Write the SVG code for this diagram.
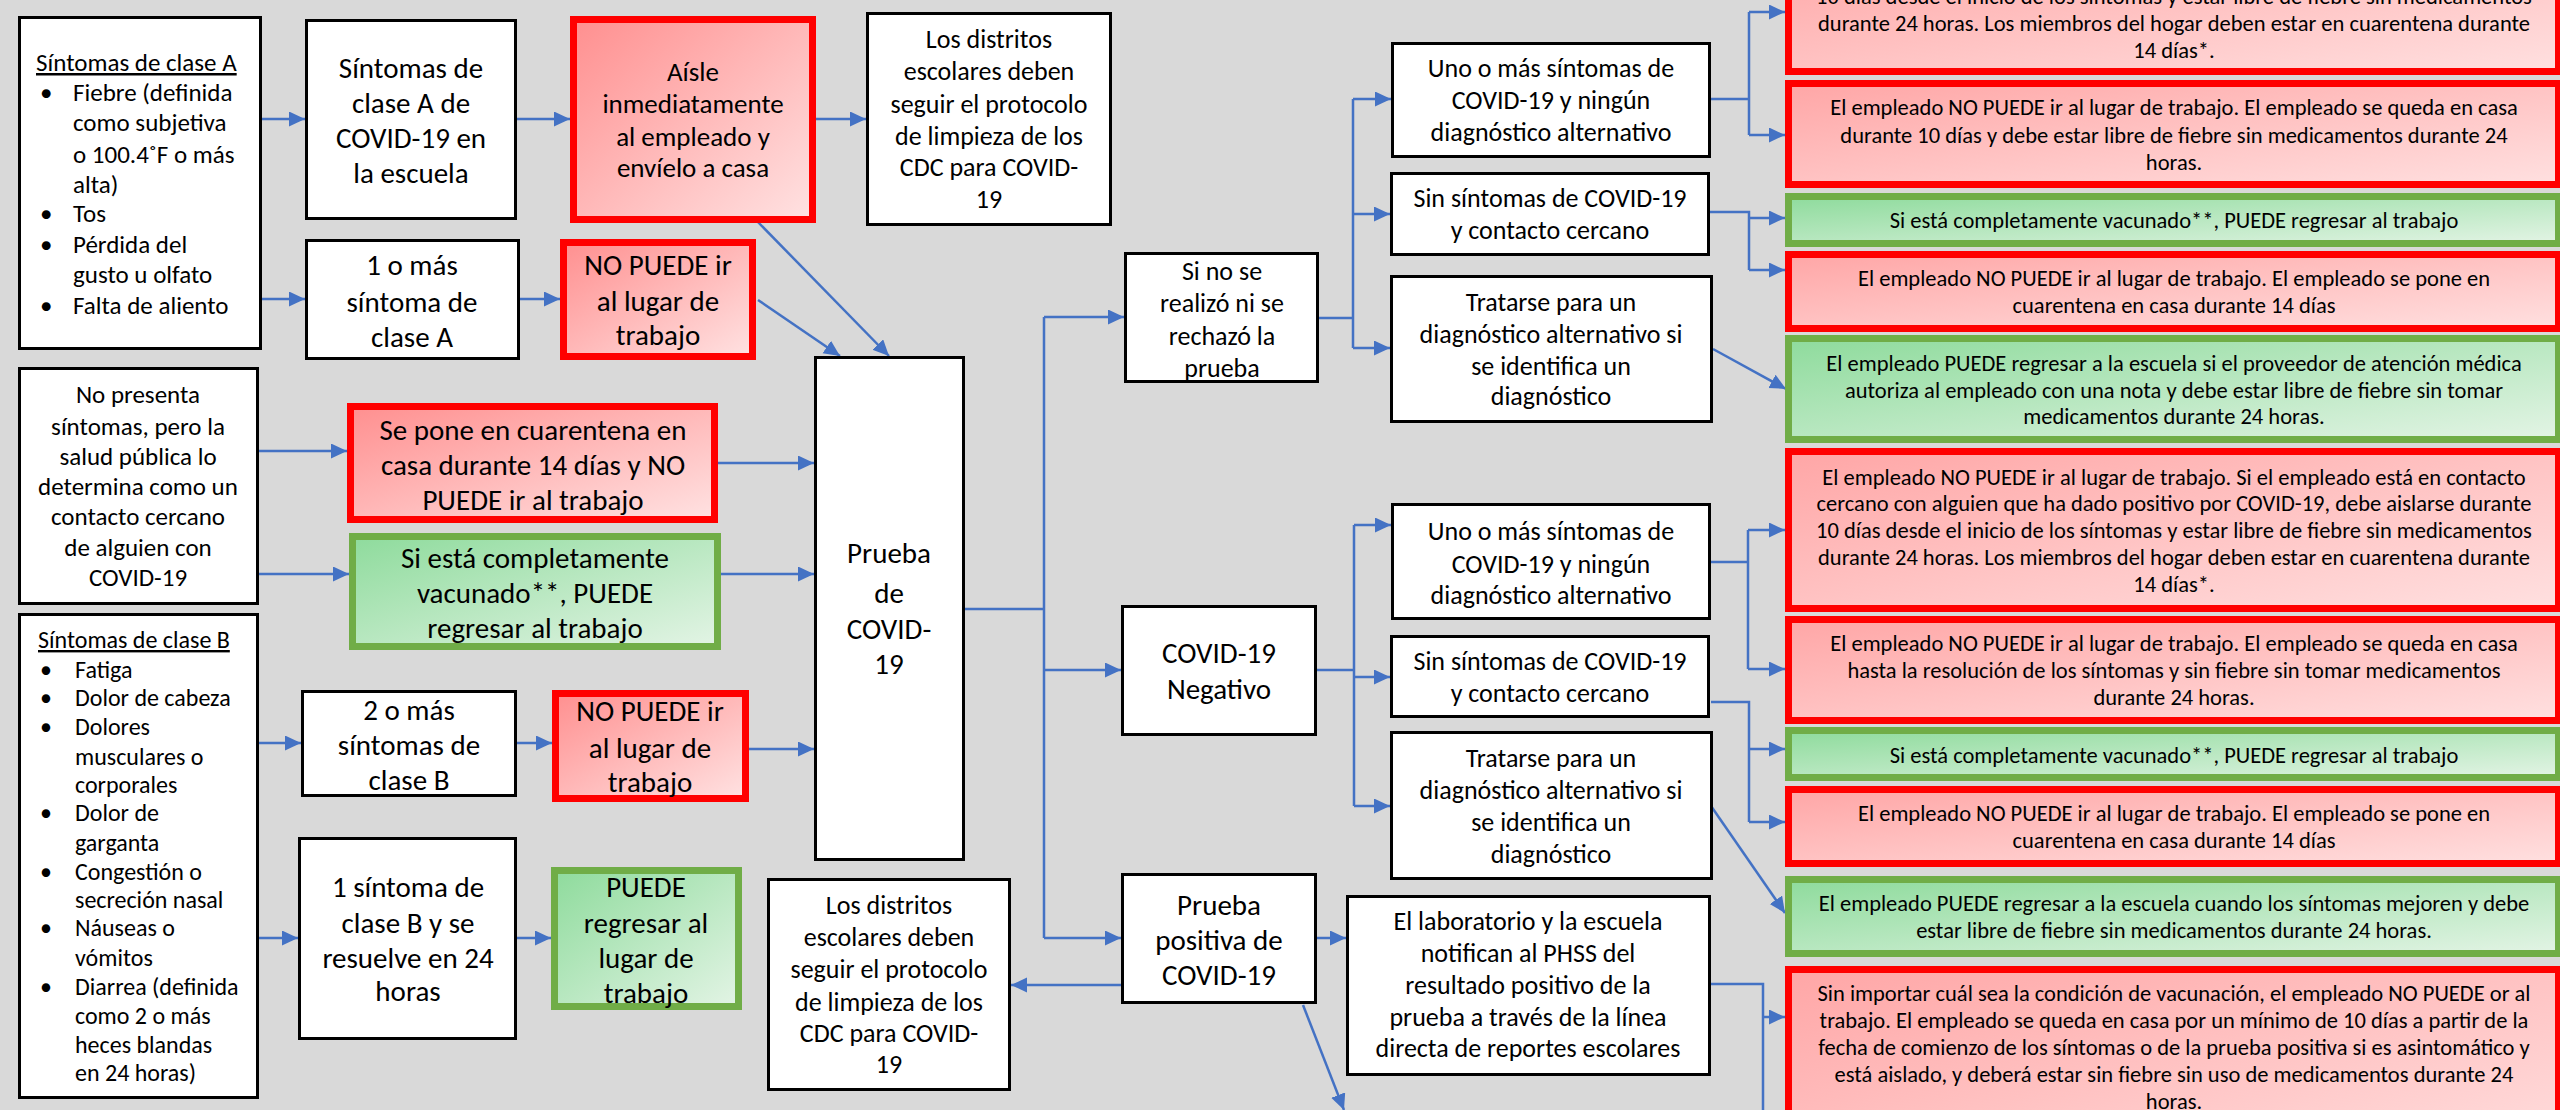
<svg xmlns="http://www.w3.org/2000/svg" width="2560" height="1110" viewBox="0 0 2560 1110">
<defs>
<linearGradient id="gR" x1="0" y1="0" x2="1" y2="1"><stop offset="0" stop-color="#ff8f8f"/><stop offset="1" stop-color="#ffe2e2"/></linearGradient>
<linearGradient id="gR2" x1="0" y1="0" x2="1" y2="1"><stop offset="0" stop-color="#ffa6a6"/><stop offset="1" stop-color="#ffe0e0"/></linearGradient>
<linearGradient id="gG" x1="0" y1="0" x2="1" y2="1"><stop offset="0" stop-color="#8edb9c"/><stop offset="1" stop-color="#e3f4e5"/></linearGradient>
<marker id="ah" markerUnits="userSpaceOnUse" markerWidth="17" markerHeight="16" refX="16" refY="7.5" orient="auto"><path d="M0,0 L16,7.5 L0,15 z" fill="#4472c4"/></marker>
</defs>
<style>
text{font-family:Carlito,Lato,"Open Sans",sans-serif;fill:#000}
.bx{fill:#fff;stroke:#000;stroke-width:3}
.rd{fill:url(#gR);stroke:#f00;stroke-width:7}
.rd2{fill:url(#gR2);stroke:#f00;stroke-width:7}
.gr{fill:url(#gG);stroke:#70ad47;stroke-width:7}
.c{fill:none;stroke:#4472c4;stroke-width:2.5}
.a{marker-end:url(#ah)}
.m{text-anchor:middle}
.f29{font-size:29px}.f27{font-size:27px}.f26{font-size:26px}.f25{font-size:25px}.f24{font-size:24px}.f22{font-size:22.5px}
</style>
<rect width="2560" height="1110" fill="#d9d9d9"/>

<g id="connectors">
<path class="c a" d="M262,119 H305"/>
<path class="c a" d="M517,119 H570"/>
<path class="c a" d="M816,119 H866"/>
<path class="c a" d="M262,299 H305"/>
<path class="c a" d="M520,299 H560"/>
<path class="c a" d="M756,220 L889,356"/>
<path class="c a" d="M758,300 L840,356"/>
<path class="c a" d="M259,451 H347"/>
<path class="c a" d="M259,574 H349"/>
<path class="c a" d="M718,463 H814"/>
<path class="c a" d="M721,574 H814"/>
<path class="c a" d="M259,743 H301"/>
<path class="c a" d="M517,743 H552"/>
<path class="c a" d="M749,749 H814"/>
<path class="c a" d="M259,938 H298"/>
<path class="c a" d="M517,938 H551"/>
<path class="c" d="M965,609 H1044 M1044,317 V938"/>
<path class="c a" d="M1044,317 H1124"/>
<path class="c a" d="M1044,670 H1121"/>
<path class="c a" d="M1044,938 H1121"/>
<path class="c a" d="M1121,985 H1011"/>
<path class="c a" d="M1317,938 H1346"/>
<path class="c a" d="M1303,1005 L1344,1110"/>
<path class="c" d="M1319,318 H1353 M1353,99 V348"/>
<path class="c a" d="M1353,99 H1391"/>
<path class="c a" d="M1353,214 H1390"/>
<path class="c a" d="M1353,348 H1390"/>
<path class="c" d="M1317,670 H1354 M1354,525 V806"/>
<path class="c a" d="M1354,525 H1391"/>
<path class="c a" d="M1354,677 H1390"/>
<path class="c a" d="M1354,806 H1390"/>
<path class="c" d="M1711,99 H1749 M1749,12 V135"/>
<path class="c a" d="M1749,12 H1785"/>
<path class="c a" d="M1749,135 H1785"/>
<path class="c" d="M1710,212 H1749 V270"/>
<path class="c a" d="M1749,218 H1785"/>
<path class="c a" d="M1749,270 H1785"/>
<path class="c a" d="M1713,349 L1786,389"/>
<path class="c" d="M1711,562 H1748 M1748,530 V669"/>
<path class="c a" d="M1748,530 H1785"/>
<path class="c a" d="M1748,669 H1785"/>
<path class="c" d="M1711,702 H1749 V822"/>
<path class="c a" d="M1749,749 H1785"/>
<path class="c a" d="M1749,822 H1785"/>
<path class="c a" d="M1711,806 L1785,913"/>
<path class="c" d="M1711,984 H1763 V1112"/>
<path class="c a" d="M1763,1017 H1785"/>
</g>

<g id="claseA">
<rect class="bx" x="19.5" y="17.5" width="241" height="331"/>
<text class="f25"><tspan x="36" y="71" text-decoration="underline">Síntomas de clase A</tspan>
<tspan x="40" y="101">•</tspan><tspan x="73" y="101">Fiebre (definida</tspan>
<tspan x="73" y="131">como subjetiva</tspan>
<tspan x="73" y="163">o 100.4˚F o más</tspan>
<tspan x="73" y="193">alta)</tspan>
<tspan x="40" y="222">•</tspan><tspan x="73" y="222">Tos</tspan>
<tspan x="40" y="253">•</tspan><tspan x="73" y="253">Pérdida del</tspan>
<tspan x="73" y="283">gusto u olfato</tspan>
<tspan x="40" y="314">•</tspan><tspan x="73" y="314">Falta de aliento</tspan></text>
</g>
<g id="sintomasA">
<rect class="bx" x="306.5" y="20.5" width="209" height="198"/>
<text class="f29 m"><tspan x="411" y="78">Síntomas de</tspan><tspan x="411" y="113">clase A de</tspan><tspan x="411" y="148">COVID-19 en</tspan><tspan x="411" y="183">la escuela</tspan></text>
</g>
<g id="aisle">
<rect class="rd" x="573.5" y="19.5" width="239" height="200"/>
<text class="f27 m"><tspan x="693" y="81">Aísle</tspan><tspan x="693" y="113">inmediatamente</tspan><tspan x="693" y="146">al empleado y</tspan><tspan x="693" y="177">envíelo a casa</tspan></text>
</g>
<g id="distritos1">
<rect class="bx" x="867.5" y="13.5" width="243" height="211"/>
<text class="f26 m"><tspan x="989" y="48">Los distritos</tspan><tspan x="989" y="80">escolares deben</tspan><tspan x="989" y="113">seguir el protocolo</tspan><tspan x="989" y="145">de limpieza de los</tspan><tspan x="989" y="176">CDC para COVID-</tspan><tspan x="989" y="208">19</tspan></text>
</g>
<g id="unoOmasA">
<rect class="bx" x="306.5" y="240.5" width="212" height="118"/>
<text class="f29 m"><tspan x="412" y="275">1 o más</tspan><tspan x="412" y="312">síntoma de</tspan><tspan x="412" y="347">clase A</tspan></text>
</g>
<g id="noPuede1">
<rect class="rd" x="563.5" y="242.5" width="189" height="114"/>
<text class="f29 m"><tspan x="658" y="275">NO PUEDE ir</tspan><tspan x="658" y="311">al lugar de</tspan><tspan x="658" y="345">trabajo</tspan></text>
</g>
<g id="noPresenta">
<rect class="bx" x="19.5" y="368.5" width="238" height="235"/>
<text class="f25 m"><tspan x="138" y="403">No presenta</tspan><tspan x="138" y="435">síntomas, pero la</tspan><tspan x="138" y="465">salud pública lo</tspan><tspan x="138" y="495">determina como un</tspan><tspan x="138" y="525">contacto cercano</tspan><tspan x="138" y="556">de alguien con</tspan><tspan x="138" y="586">COVID-19</tspan></text>
</g>
<g id="sePone">
<rect class="rd" x="350.5" y="406.5" width="364" height="113"/>
<text class="f29 m"><tspan x="533" y="440">Se pone en cuarentena en</tspan><tspan x="533" y="475">casa durante 14 días y NO</tspan><tspan x="533" y="510">PUEDE ir al trabajo</tspan></text>
</g>
<g id="vacunado1">
<rect class="gr" x="352.5" y="536.5" width="365" height="110"/>
<text class="f29 m"><tspan x="535" y="568">Si está completamente</tspan><tspan x="535" y="603">vacunado**, PUEDE</tspan><tspan x="535" y="638">regresar al trabajo</tspan></text>
</g>
<g id="claseB">
<rect class="bx" x="19.5" y="614.5" width="238" height="483"/>
<text class="f24"><tspan x="38" y="648" text-decoration="underline">Síntomas de clase B</tspan>
<tspan x="40" y="678">•</tspan><tspan x="75" y="678">Fatiga</tspan>
<tspan x="40" y="706">•</tspan><tspan x="75" y="706">Dolor de cabeza</tspan>
<tspan x="40" y="735">•</tspan><tspan x="75" y="735">Dolores</tspan>
<tspan x="75" y="765">musculares o</tspan>
<tspan x="75" y="793">corporales</tspan>
<tspan x="40" y="821">•</tspan><tspan x="75" y="821">Dolor de</tspan>
<tspan x="75" y="851">garganta</tspan>
<tspan x="40" y="880">•</tspan><tspan x="75" y="880">Congestión o</tspan>
<tspan x="75" y="908">secreción nasal</tspan>
<tspan x="40" y="936">•</tspan><tspan x="75" y="936">Náuseas o</tspan>
<tspan x="75" y="966">vómitos</tspan>
<tspan x="40" y="995">•</tspan><tspan x="75" y="995">Diarrea (definida</tspan>
<tspan x="75" y="1024">como 2 o más</tspan>
<tspan x="75" y="1053">heces blandas</tspan>
<tspan x="75" y="1081">en 24 horas)</tspan></text>
</g>
<g id="dosOmasB">
<rect class="bx" x="302.5" y="691.5" width="213" height="104"/>
<text class="f29 m"><tspan x="409" y="720">2 o más</tspan><tspan x="409" y="755">síntomas de</tspan><tspan x="409" y="790">clase B</tspan></text>
</g>
<g id="noPuede2">
<rect class="rd" x="555.5" y="693.5" width="190" height="105"/>
<text class="f29 m"><tspan x="650" y="721">NO PUEDE ir</tspan><tspan x="650" y="758">al lugar de</tspan><tspan x="650" y="792">trabajo</tspan></text>
</g>
<g id="unoB">
<rect class="bx" x="299.5" y="838.5" width="216" height="200"/>
<text class="f29 m"><tspan x="408" y="897">1 síntoma de</tspan><tspan x="408" y="933">clase B y se</tspan><tspan x="408" y="968">resuelve en 24</tspan><tspan x="408" y="1001">horas</tspan></text>
</g>
<g id="puede">
<rect class="gr" x="554.5" y="870.5" width="184" height="136"/>
<text class="f29 m"><tspan x="646" y="897">PUEDE</tspan><tspan x="646" y="933">regresar al</tspan><tspan x="646" y="968">lugar de</tspan><tspan x="646" y="1003">trabajo</tspan></text>
</g>
<g id="prueba">
<rect class="bx" x="815.5" y="357.5" width="148" height="502"/>
<text class="f29 m"><tspan x="889" y="563">Prueba</tspan><tspan x="889" y="603">de</tspan><tspan x="889" y="639">COVID-</tspan><tspan x="889" y="674">19</tspan></text>
</g>
<g id="sinPrueba">
<rect class="bx" x="1125.5" y="253.5" width="192" height="128"/>
<text class="f26 m"><tspan x="1222" y="280">Si no se</tspan><tspan x="1222" y="312">realizó ni se</tspan><tspan x="1222" y="345">rechazó la</tspan><tspan x="1222" y="377">prueba</tspan></text>
</g>
<g id="negativo">
<rect class="bx" x="1122.5" y="606.5" width="193" height="128"/>
<text class="f29 m"><tspan x="1219" y="663">COVID-19</tspan><tspan x="1219" y="699">Negativo</tspan></text>
</g>
<g id="positiva">
<rect class="bx" x="1122.5" y="874.5" width="193" height="128"/>
<text class="f29 m"><tspan x="1219" y="915">Prueba</tspan><tspan x="1219" y="950">positiva de</tspan><tspan x="1219" y="985">COVID-19</tspan></text>
</g>
<g id="distritos2">
<rect class="bx" x="768.5" y="879.5" width="241" height="210"/>
<text class="f26 m"><tspan x="889" y="914">Los distritos</tspan><tspan x="889" y="946">escolares deben</tspan><tspan x="889" y="978">seguir el protocolo</tspan><tspan x="889" y="1011">de limpieza de los</tspan><tspan x="889" y="1042">CDC para COVID-</tspan><tspan x="889" y="1073">19</tspan></text>
</g>
<g id="laboratorio">
<rect class="bx" x="1347.5" y="896.5" width="362" height="178"/>
<text class="f26 m"><tspan x="1528" y="930">El laboratorio y la escuela</tspan><tspan x="1528" y="962">notifican al PHSS del</tspan><tspan x="1528" y="994">resultado positivo de la</tspan><tspan x="1528" y="1026">prueba a través de la línea</tspan><tspan x="1528" y="1057">directa de reportes escolares</tspan></text>
</g>
<g id="uno1">
<rect class="bx" x="1392.5" y="43.5" width="317" height="113"/>
<text class="f26 m"><tspan x="1551" y="77">Uno o más síntomas de</tspan><tspan x="1551" y="109">COVID-19 y ningún</tspan><tspan x="1551" y="141">diagnóstico alternativo</tspan></text>
</g>
<g id="sin1">
<rect class="bx" x="1391.5" y="173.5" width="317" height="81"/>
<text class="f26 m"><tspan x="1550" y="207">Sin síntomas de COVID-19</tspan><tspan x="1550" y="239">y contacto cercano</tspan></text>
</g>
<g id="tratarse1">
<rect class="bx" x="1391.5" y="276.5" width="320" height="145"/>
<text class="f26 m"><tspan x="1551" y="311">Tratarse para un</tspan><tspan x="1551" y="343">diagnóstico alternativo si</tspan><tspan x="1551" y="375">se identifica un</tspan><tspan x="1551" y="405">diagnóstico</tspan></text>
</g>
<g id="uno2">
<rect class="bx" x="1392.5" y="504.5" width="317" height="114"/>
<text class="f26 m"><tspan x="1551" y="540">Uno o más síntomas de</tspan><tspan x="1551" y="573">COVID-19 y ningún</tspan><tspan x="1551" y="604">diagnóstico alternativo</tspan></text>
</g>
<g id="sin2">
<rect class="bx" x="1391.5" y="636.5" width="317" height="80"/>
<text class="f26 m"><tspan x="1550" y="670">Sin síntomas de COVID-19</tspan><tspan x="1550" y="702">y contacto cercano</tspan></text>
</g>
<g id="tratarse2">
<rect class="bx" x="1391.5" y="732.5" width="320" height="146"/>
<text class="f26 m"><tspan x="1551" y="767">Tratarse para un</tspan><tspan x="1551" y="799">diagnóstico alternativo si</tspan><tspan x="1551" y="831">se identifica un</tspan><tspan x="1551" y="863">diagnóstico</tspan></text>
</g>

<g id="r1">
<rect class="rd2" x="1788.5" y="-50" width="770" height="121.5"/>
<text class="f22 m"><tspan x="2174" y="4">10 días desde el inicio de los síntomas y estar libre de fiebre sin medicamentos</tspan><tspan x="2174" y="31">durante 24 horas. Los miembros del hogar deben estar en cuarentena durante</tspan><tspan x="2174" y="58">14 días*.</tspan></text>
</g>
<g id="r2">
<rect class="rd2" x="1788.5" y="83.5" width="770" height="101"/>
<text class="f22 m"><tspan x="2174" y="115">El empleado NO PUEDE ir al lugar de trabajo. El empleado se queda en casa</tspan><tspan x="2174" y="143">durante 10 días y debe estar libre de fiebre sin medicamentos durante 24</tspan><tspan x="2174" y="170">horas.</tspan></text>
</g>
<g id="g3">
<rect class="gr" x="1788.5" y="196.5" width="770" height="47"/>
<text class="f22 m"><tspan x="2174" y="228">Si está completamente vacunado**, PUEDE regresar al trabajo</tspan></text>
</g>
<g id="r4">
<rect class="rd2" x="1788.5" y="254.5" width="770" height="74"/>
<text class="f22 m"><tspan x="2174" y="286">El empleado NO PUEDE ir al lugar de trabajo. El empleado se pone en</tspan><tspan x="2174" y="313">cuarentena en casa durante 14 días</tspan></text>
</g>
<g id="g5">
<rect class="gr" x="1788.5" y="338.5" width="770" height="101"/>
<text class="f22 m"><tspan x="2174" y="371">El empleado PUEDE regresar a la escuela si el proveedor de atención médica</tspan><tspan x="2174" y="398">autoriza al empleado con una nota y debe estar libre de fiebre sin tomar</tspan><tspan x="2174" y="424">medicamentos durante 24 horas.</tspan></text>
</g>
<g id="r6">
<rect class="rd2" x="1788.5" y="451.5" width="770" height="157"/>
<text class="f22 m"><tspan x="2174" y="485">El empleado NO PUEDE ir al lugar de trabajo. Si el empleado está en contacto</tspan><tspan x="2174" y="511">cercano con alguien que ha dado positivo por COVID-19, debe aislarse durante</tspan><tspan x="2174" y="538">10 días desde el inicio de los síntomas y estar libre de fiebre sin medicamentos</tspan><tspan x="2174" y="565">durante 24 horas. Los miembros del hogar deben estar en cuarentena durante</tspan><tspan x="2174" y="592">14 días*.</tspan></text>
</g>
<g id="r7">
<rect class="rd2" x="1788.5" y="619.5" width="770" height="101"/>
<text class="f22 m"><tspan x="2174" y="651">El empleado NO PUEDE ir al lugar de trabajo. El empleado se queda en casa</tspan><tspan x="2174" y="678">hasta la resolución de los síntomas y sin fiebre sin tomar medicamentos</tspan><tspan x="2174" y="705">durante 24 horas.</tspan></text>
</g>
<g id="g8">
<rect class="gr" x="1788.5" y="730.5" width="770" height="47"/>
<text class="f22 m"><tspan x="2174" y="763">Si está completamente vacunado**, PUEDE regresar al trabajo</tspan></text>
</g>
<g id="r9">
<rect class="rd2" x="1788.5" y="789.5" width="770" height="74"/>
<text class="f22 m"><tspan x="2174" y="821">El empleado NO PUEDE ir al lugar de trabajo. El empleado se pone en</tspan><tspan x="2174" y="848">cuarentena en casa durante 14 días</tspan></text>
</g>
<g id="g10">
<rect class="gr" x="1788.5" y="879.5" width="770" height="74"/>
<text class="f22 m"><tspan x="2174" y="911">El empleado PUEDE regresar a la escuela cuando los síntomas mejoren y debe</tspan><tspan x="2174" y="938">estar libre de fiebre sin medicamentos durante 24 horas.</tspan></text>
</g>
<g id="r11">
<rect class="rd2" x="1788.5" y="969.5" width="770" height="200"/>
<text class="f22 m"><tspan x="2174" y="1001">Sin importar cuál sea la condición de vacunación, el empleado NO PUEDE or al</tspan><tspan x="2174" y="1028">trabajo. El empleado se queda en casa por un mínimo de 10 días a partir de la</tspan><tspan x="2174" y="1055">fecha de comienzo de los síntomas o de la prueba positiva si es asintomático y</tspan><tspan x="2174" y="1082">está aislado, y deberá estar sin fiebre sin uso de medicamentos durante 24</tspan><tspan x="2174" y="1109">horas.</tspan></text>
</g>
</svg>
